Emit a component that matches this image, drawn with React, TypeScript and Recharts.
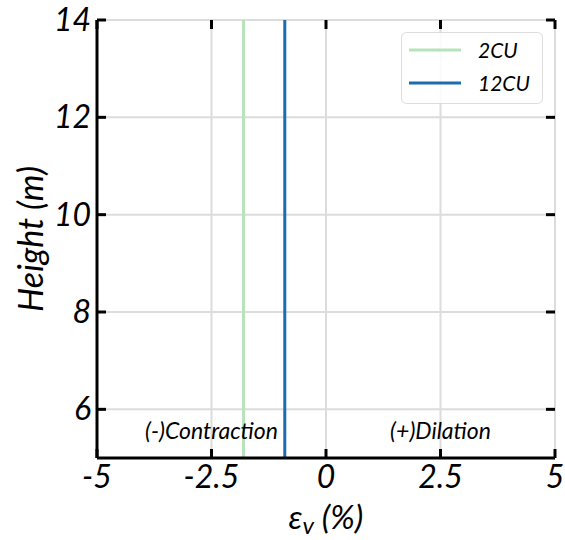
import {
  CartesianGrid,
  Line,
  LineChart,
  ReferenceDot,
  XAxis,
  YAxis,
} from "recharts";

const heights = [5, 14];
const strain2CU = [-1.8, -1.8];
const strain12CU = [-0.9, -0.9];
const seriesNames = ["2CU", "12CU"];
const seriesColors = ["#b6e3b9", "#1b6db1"];
const xTicks = [-5, -2.5, 0, 2.5, 5];
const yTicks = [6, 8, 10, 12, 14];
const noteTexts = ["(-)Contraction", "(+)Dilation"];
const noteX = [-2.5, 2.5];
const noteY = [5.55, 5.55];

const FONT = "Lato, 'Open Sans', sans-serif";
const TICK_LEN = 9;
// plot frame edges (from chart margins / axis sizes)
const PLOT_TOP = 20;
const PLOT_RIGHT = 555;

const series = [strain2CU, strain12CU].map((values) =>
  values.map((x, i) => ({ x, y: heights[i] }))
);

function BottomTick({ x, y, payload }: any) {
  return (
    <g>
      <line x1={x} x2={x} y1={y} y2={y - TICK_LEN} stroke="#000" strokeWidth={3} />
      <line x1={x} x2={x} y1={PLOT_TOP} y2={PLOT_TOP + TICK_LEN} stroke="#000" strokeWidth={3} />
      <text x={x} y={y + 30} textAnchor="middle" fontFamily={FONT} fontStyle="italic" fontSize={32} fill="#000">
        {payload.value}
      </text>
    </g>
  );
}

function LeftTick({ x, y, payload }: any) {
  return (
    <g>
      <line x1={x} x2={x + TICK_LEN} y1={y} y2={y} stroke="#000" strokeWidth={3} />
      <line x1={PLOT_RIGHT} x2={PLOT_RIGHT - TICK_LEN} y1={y} y2={y} stroke="#000" strokeWidth={3} />
      <text x={x - 6} y={y + 11} textAnchor="end" fontFamily={FONT} fontStyle="italic" fontSize={32} fill="#000">
        {payload.value}
      </text>
    </g>
  );
}

function LegendBox() {
  return (
    <svg width={565} height={540} style={{ position: "absolute", left: 0, top: 0, pointerEvents: "none" }}>
      <rect x={401.5} y={32.5} width={141} height={71} rx={5} fill="rgba(255,255,255,0.85)" stroke="#dddddd" />
      {seriesNames.map((name, i) => (
        <g key={name}>
          <line x1={409} x2={461} y1={50 + i * 33} y2={50 + i * 33} stroke={seriesColors[i]} strokeWidth={3} />
          <text x={478} y={58 + i * 33} fontFamily={FONT} fontStyle="italic" fontSize={21} fill="#000">
            {name}
          </text>
        </g>
      ))}
    </svg>
  );
}

function YLabel({ viewBox }: any) {
  const cy = viewBox.y + viewBox.height / 2;
  const cx = 29;
  return (
    <text
      x={cx}
      y={cy}
      transform={`rotate(-90 ${cx} ${cy})`}
      textAnchor="middle"
      dominantBaseline="central"
      fontFamily={FONT}
      fontStyle="italic"
      fontSize={34}
      fill="#000"
    >
      Height (m)
    </text>
  );
}

function XLabel({ viewBox }: any) {
  const cx = viewBox.x + viewBox.width / 2;
  return (
    <text x={cx} y={529} textAnchor="middle" fontFamily={FONT} fontStyle="italic" fontSize={33} fill="#000">
      ε<tspan fontSize={24} dy={5}>v</tspan>
      <tspan dy={-5}> (%)</tspan>
    </text>
  );
}

export default function App() {
  return (
    <div style={{ position: "absolute", left: 0, top: 0, width: 565, height: 540, background: "#fff" }}>
      <LineChart width={565} height={540} margin={{ top: PLOT_TOP, right: 10, bottom: 0, left: 0 }}>
        <CartesianGrid stroke="#dcdcdc" strokeWidth={2} />
        <XAxis
          type="number"
          dataKey="x"
          domain={[-5, 5]}
          ticks={xTicks}
          allowDataOverflow
          height={82}
          tickSize={0}
          tickMargin={0}
          tickLine={false}
          axisLine={{ stroke: "#000", strokeWidth: 3 }}
          tick={<BottomTick />}
          interval={0}
          label={<XLabel />}
        />
        <XAxis
          xAxisId="top"
          orientation="top"
          type="number"
          domain={[-5, 5]}
          allowDataOverflow
          height={0}
          tickLine={false}
          tick={false}
          axisLine={{ stroke: "#000", strokeWidth: 3 }}
        />
        <YAxis
          type="number"
          dataKey="y"
          domain={[5, 14]}
          ticks={yTicks}
          allowDataOverflow
          width={97}
          tickSize={0}
          tickMargin={0}
          tickLine={false}
          axisLine={{ stroke: "#000", strokeWidth: 3 }}
          tick={<LeftTick />}
          interval={0}
          label={<YLabel />}
        />
        <YAxis
          yAxisId="right"
          orientation="right"
          type="number"
          domain={[5, 14]}
          allowDataOverflow
          width={0}
          tickLine={false}
          tick={false}
          axisLine={{ stroke: "#000", strokeWidth: 3 }}
        />
        {series.map((data, i) => (
          <Line
            key={seriesNames[i]}
            name={seriesNames[i]}
            data={data}
            dataKey="y"
            type="linear"
            stroke={seriesColors[i]}
            strokeWidth={3}
            dot={false}
            isAnimationActive={false}
          />
        ))}
        {noteTexts.map((text, i) => (
          <ReferenceDot
            key={text}
            x={noteX[i]}
            y={noteY[i]}
            r={0}
            stroke="none"
            label={{
              value: text,
              position: "center",
              fill: "#000",
              fontSize: 23,
              fontStyle: "italic",
              fontFamily: FONT,
            }}
          />
        ))}
      </LineChart>
      <LegendBox />
    </div>
  );
}
